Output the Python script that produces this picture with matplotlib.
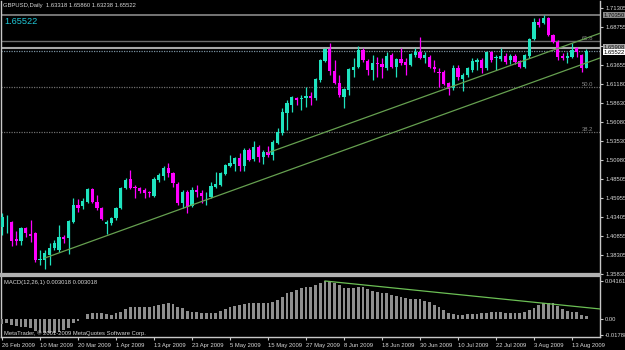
import matplotlib
matplotlib.use("Agg")
import matplotlib.pyplot as plt
import matplotlib.transforms as mtrans

# ---------------- data ----------------
opens = [1.4210, 1.4310, 1.4277, 1.4050, 1.4023, 1.4197, 1.4117, 1.4130, 1.3770, 1.3770,
         1.3836, 1.3930, 1.3903, 1.4077, 1.4063, 1.4277, 1.4503, 1.4490, 1.4543, 1.4717,
         1.4543, 1.4463, 1.4250, 1.4263, 1.4330, 1.4463, 1.4730, 1.4850, 1.4743, 1.4730,
         1.4703, 1.4677, 1.4623, 1.4837, 1.4890, 1.4997, 1.4930, 1.4783, 1.4530, 1.4677,
         1.4490, 1.4703, 1.4663, 1.4630, 1.4610, 1.4743, 1.4770, 1.4917, 1.5023, 1.5050,
         1.5130, 1.5023, 1.5237, 1.5117, 1.5277, 1.5143, 1.5210, 1.5170, 1.5330, 1.5463,
         1.5730, 1.5837, 1.5930, 1.5917, 1.5930, 1.5957, 1.5930, 1.6170, 1.6424, 1.6584,
         1.6290, 1.6130, 1.5943, 1.6037, 1.6304, 1.6344, 1.6570, 1.6424, 1.6304, 1.6397,
         1.6384, 1.6330, 1.6504, 1.6344, 1.6450, 1.6410, 1.6370, 1.6504, 1.6544, 1.6464,
         1.6477, 1.6344, 1.6277, 1.6277, 1.6130, 1.6064, 1.6330, 1.6184, 1.6237, 1.6304,
         1.6410, 1.6437, 1.6330, 1.6544, 1.6464, 1.6450, 1.6490, 1.6437, 1.6490, 1.6424,
         1.6344, 1.6490, 1.6717, 1.6944, 1.6930, 1.6997, 1.6770, 1.6677, 1.6490, 1.6464,
         1.6477, 1.6597, 1.6504, 1.63318]
highs = [1.4397, 1.4370, 1.4290, 1.4157, 1.4210, 1.4210, 1.4303, 1.4143, 1.3903, 1.3903,
         1.3996, 1.4036, 1.4237, 1.4103, 1.4303, 1.4597, 1.4583, 1.4597, 1.4730, 1.4730,
         1.4637, 1.4477, 1.4303, 1.4343, 1.4477, 1.4743, 1.4863, 1.4970, 1.4770, 1.4743,
         1.4730, 1.4690, 1.4877, 1.4930, 1.5023, 1.5063, 1.4943, 1.4810, 1.4703, 1.4703,
         1.4743, 1.4770, 1.4703, 1.4677, 1.4810, 1.4943, 1.4943, 1.5050, 1.5170, 1.5143,
         1.5197, 1.5263, 1.5263, 1.5357, 1.5303, 1.5237, 1.5290, 1.5370, 1.5530, 1.5797,
         1.5904, 1.5957, 1.5943, 1.5970, 1.6077, 1.6010, 1.6197, 1.6450, 1.6597, 1.6664,
         1.6437, 1.6237, 1.6064, 1.6330, 1.6464, 1.6624, 1.6597, 1.6450, 1.6504, 1.6477,
         1.6464, 1.6544, 1.6530, 1.6464, 1.6597, 1.6464, 1.6530, 1.6597, 1.6744, 1.6544,
         1.6504, 1.6437, 1.6330, 1.6304, 1.6144, 1.6370, 1.6370, 1.6264, 1.6344, 1.6464,
         1.6464, 1.6464, 1.6557, 1.6557, 1.6504, 1.6597, 1.6530, 1.6517, 1.6517, 1.6437,
         1.6517, 1.6730, 1.6997, 1.6997, 1.7035, 1.7010, 1.6784, 1.6704, 1.6530, 1.6544,
         1.6664, 1.6610, 1.6517, 1.65860]
lows = [1.4103, 1.4130, 1.3956, 1.3970, 1.3970, 1.4077, 1.4010, 1.3743, 1.3703, 1.3650,
        1.3703, 1.3903, 1.3876, 1.3996, 1.3850, 1.4263, 1.4410, 1.4450, 1.4530, 1.4530,
        1.4437, 1.4303, 1.4117, 1.4237, 1.4303, 1.4450, 1.4717, 1.4717, 1.4597, 1.4663,
        1.4597, 1.4610, 1.4610, 1.4810, 1.4837, 1.4877, 1.4743, 1.4503, 1.4463, 1.4397,
        1.4477, 1.4610, 1.4530, 1.4503, 1.4597, 1.4730, 1.4757, 1.4903, 1.5010, 1.4957,
        1.4957, 1.4957, 1.5090, 1.5090, 1.5077, 1.5050, 1.5143, 1.5103, 1.5317, 1.5437,
        1.5503, 1.5743, 1.5837, 1.5770, 1.5810, 1.5837, 1.5904, 1.6143, 1.6410, 1.6237,
        1.6117, 1.5943, 1.5797, 1.5970, 1.6210, 1.6330, 1.6410, 1.6237, 1.6170, 1.6210,
        1.6197, 1.6304, 1.6330, 1.6210, 1.6370, 1.6237, 1.6357, 1.6477, 1.6450, 1.6397,
        1.6330, 1.6277, 1.6077, 1.6104, 1.5970, 1.6037, 1.6170, 1.6024, 1.6210, 1.6277,
        1.6304, 1.6264, 1.6304, 1.6410, 1.6304, 1.6424, 1.6384, 1.6384, 1.6384, 1.6330,
        1.6330, 1.6464, 1.6704, 1.6877, 1.6917, 1.6757, 1.6664, 1.6437, 1.6437, 1.6397,
        1.6464, 1.6477, 1.6277, 1.63238]
closes = [1.4343, 1.4323, 1.4023, 1.4023, 1.4197, 1.4130, 1.4090, 1.3770, 1.3783, 1.3863,
          1.3930, 1.3996, 1.4077, 1.4050, 1.4290, 1.4503, 1.4463, 1.4557, 1.4717, 1.4543,
          1.4463, 1.4317, 1.4277, 1.4330, 1.4463, 1.4730, 1.4837, 1.4730, 1.4730, 1.4690,
          1.4663, 1.4663, 1.4850, 1.4903, 1.4997, 1.4930, 1.4797, 1.4530, 1.4677, 1.4477,
          1.4703, 1.4677, 1.4623, 1.4643, 1.4757, 1.4783, 1.4930, 1.5037, 1.5063, 1.5130,
          1.5023, 1.5237, 1.5103, 1.5277, 1.5143, 1.5210, 1.5170, 1.5343, 1.5477, 1.5743,
          1.5863, 1.5943, 1.5904, 1.5934, 1.5957, 1.5930, 1.6184, 1.6437, 1.6584, 1.6290,
          1.6130, 1.5970, 1.6050, 1.6317, 1.6344, 1.6570, 1.6437, 1.6304, 1.6397, 1.6384,
          1.6344, 1.6490, 1.6344, 1.6450, 1.6397, 1.6370, 1.6517, 1.6544, 1.6464, 1.6504,
          1.6344, 1.6317, 1.6264, 1.6117, 1.6050, 1.6330, 1.6210, 1.6237, 1.6330, 1.6424,
          1.6437, 1.6330, 1.6544, 1.6437, 1.6477, 1.6490, 1.6410, 1.6490, 1.6410, 1.6344,
          1.6504, 1.6717, 1.6944, 1.6904, 1.6997, 1.6770, 1.6677, 1.6477, 1.6464, 1.6490,
          1.6570, 1.6544, 1.6330, 1.65522]
macd = [-0.0055, -0.0047, -0.0066, -0.0077, -0.0084, -0.0091, -0.0102, -0.0128, -0.0150, -0.0157,
        -0.0157, -0.0150, -0.0139, -0.0120, -0.0102, -0.0047, -0.0018, -0.0004,
        0.0055, 0.0069, 0.0069, 0.0062, 0.0051, 0.0044, 0.0062, 0.0080, 0.0106, 0.0128,
        0.0135, 0.0135, 0.0135, 0.0135, 0.0142, 0.0153, 0.0164, 0.0172, 0.0164, 0.0135,
        0.0117, 0.0088, 0.0080, 0.0080, 0.0069, 0.0062, 0.0062, 0.0069, 0.0091, 0.0106,
        0.0135, 0.0146, 0.0153, 0.0161, 0.0172, 0.0172, 0.0172, 0.0172, 0.0172, 0.0183,
        0.0208, 0.0245, 0.0281, 0.0299, 0.0318, 0.0336, 0.0347, 0.0350, 0.0375,
        0.0398, 0.041618, 0.0409, 0.0398, 0.0372, 0.0343, 0.0336, 0.0336, 0.0354, 0.0354,
        0.0329, 0.0310, 0.0299, 0.0281, 0.0281, 0.0263, 0.0252, 0.0237, 0.0226, 0.0219,
        0.0215, 0.0215, 0.0201, 0.0183, 0.0153, 0.0135, 0.0099, 0.0069, 0.0051, 0.0044,
        0.0044, 0.0051, 0.0051, 0.0051, 0.0062, 0.0069, 0.0073, 0.0073, 0.0073, 0.0069,
        0.0069, 0.0069, 0.0062, 0.0073, 0.0099, 0.0117, 0.0153, 0.0172, 0.0172, 0.0172,
        0.0142, 0.0110, 0.0088, 0.0080, 0.0073, 0.0040, 0.003018]

date_labels = ["26 Feb 2009", "10 Mar 2009", "20 Mar 2009", "1 Apr 2009", "13 Apr 2009",
               "23 Apr 2009", "5 May 2009", "15 May 2009", "27 May 2009", "8 Jun 2009",
               "18 Jun 2009", "30 Jun 2009", "10 Jul 2009", "22 Jul 2009", "3 Aug 2009",
               "13 Aug 2009"]
date_bars = [0, 8, 16, 24, 32, 40, 48, 56, 64, 72, 80, 88, 96, 104, 112, 120]
price_ticks = [1.71305, 1.68755, 1.66205, 1.63655, 1.61180, 1.58630, 1.56080, 1.53530,
               1.50980, 1.48505, 1.45955, 1.43405, 1.40855, 1.38305, 1.35830]
macd_ticks = [0.041618, 0.0, -0.017888]
macd_tick_labels = ["0.041618", "0.00", "-0.017888"]

high_mark = 1.70350
level_mark = 1.65908
bid = 1.65522
fib_levels = [1.6690, 1.6081, 1.5477]
fib_names = ["61.8", "50.0", "38.2"]
lower_line_x = [9.05, 125.9]
lower_line_y = [1.3797, 1.6464]
upper_line_x = [56.0, 125.9]
upper_line_y = [1.5200, 1.6794]
macd_line_x = [68.0, 125.9]
macd_line_y = [0.041618, 0.0110]

# ---------------- styling ----------------
BULL = "#1fe3bf"
BEAR = "#ff00ff"
TXT = "#d8d8d8"
FONT = ["Liberation Sans", "DejaVu Sans"]
FS = 4.2

W, H = 625, 350
fig = plt.figure(figsize=(W / 100, H / 100), dpi=100, facecolor="black")


def ax_px(l, t, r, b):
    return fig.add_axes([l / W, 1 - b / H, (r - l) / W, (b - t) / H], facecolor="black")


ax = ax_px(1, 1, 600, 274)
axm = ax_px(1, 276, 600, 337)

xl = ((1 - 2) / 4.75, (600 - 2) / 4.75)
for a in (ax, axm):
    a.set_xlim(*xl)
    a.spines["top"].set_visible(False)
    for s in ("left", "right", "bottom"):
        a.spines[s].set_color("#c8c8c8")
        a.spines[s].set_linewidth(1.0)
ax.spines["bottom"].set_color("#b0b0b0")
ax.spines["bottom"].set_linewidth(1.6)
axm.spines["top"].set_visible(True)
axm.spines["top"].set_color("#b0b0b0")
axm.spines["top"].set_linewidth(1.6)

ax.set_ylim(1.35831, 1.72239)
axm.set_ylim(-0.01971, 0.04709)

# candles
n = len(opens)
xs = list(range(n))
for i in xs:
    o, h, l, c = opens[i], highs[i], lows[i], closes[i]
    col = BULL if c >= o else BEAR
    ax.vlines(i, l, h, color=col, linewidth=0.9, zorder=3)
    lo = min(o, c)
    ht = max(abs(c - o), 0.0011)
    ax.bar(i, ht, bottom=lo, width=0.68, color=col, linewidth=0, zorder=4)

# horizontal levels
ax.axhline(high_mark, color="#8a8a8a", linewidth=1.2, zorder=2)
ax.axhline(fib_levels[0], color="#6e6e6e", linewidth=1.0, zorder=2)
ax.axhline(level_mark, color="#a8a8a8", linewidth=1.5, zorder=2)
ax.axhline(bid, color="#7890a0", linewidth=0.9, linestyle=(0, (1, 1)), zorder=2)
ax.axhline(fib_levels[1], color="#6e6e6e", linewidth=0.9, linestyle=(0, (1, 1)), zorder=2)
ax.axhline(fib_levels[2], color="#6e6e6e", linewidth=0.9, linestyle=(0, (1, 1)), zorder=2)
for lv, nm in zip(fib_levels, fib_names):
    ax.text(124.5, lv, nm, color="#8a8a8a", fontsize=FS, family=FONT,
            ha="right", va="bottom", zorder=5)

# trend lines
ax.plot(lower_line_x, lower_line_y, color="#66a050", linewidth=0.9, zorder=5)
ax.plot(upper_line_x, upper_line_y, color="#66a050", linewidth=0.9, zorder=5)

# price axis on right
ax.yaxis.tick_right()
ax.set_yticks(price_ticks)
ax.set_yticklabels(["%.5f" % v for v in price_ticks])
ax.tick_params(axis="y", colors="#c8c8c8", labelcolor=TXT, length=2.5, width=0.8,
               pad=1.2, labelsize=FS)
for t in ax.get_yticklabels():
    t.set_family(FONT)
ax.set_xticks([])

trans = mtrans.blended_transform_factory(ax.transAxes, ax.transData)
ax.text(1.0060, high_mark, "%.5f" % high_mark, transform=trans, fontsize=FS, family=FONT,
        color="#101010", va="center", ha="left", clip_on=False, zorder=10,
        bbox=dict(facecolor="#8a8a8a", edgecolor="none", pad=0.5))
ax.text(1.0060, level_mark + 0.0012, "%.5f" % level_mark, transform=trans, fontsize=FS,
        family=FONT, color="#101010", va="center", ha="left", clip_on=False, zorder=10,
        bbox=dict(facecolor="#a8a8a8", edgecolor="none", pad=0.5))
ax.text(1.0060, bid - 0.0012, "%.5f" % bid, transform=trans, fontsize=FS, family=FONT,
        color="#000000", va="center", ha="left", clip_on=False, zorder=11,
        bbox=dict(facecolor="#ffffff", edgecolor="none", pad=0.5))

# header texts
ax.text(0.004, 0.982, "GBPUSD,Daily  %.5f %.5f %.5f %.5f" % (opens[-1], highs[-1], lows[-1], closes[-1]),
        transform=ax.transAxes, color=TXT, fontsize=FS, family=FONT, va="center", ha="left")
ax.text(0.006, 0.926, "%.5f" % closes[-1], transform=ax.transAxes, color="#20c8d8",
        fontsize=6.6, family=FONT, va="center", ha="left")

# MACD
axm.bar(xs, macd, width=0.62, color="#8e8e8e", linewidth=0, zorder=3)
axm.plot(macd_line_x, macd_line_y, color="#6cc055", linewidth=0.9, zorder=4)
axm.yaxis.tick_right()
axm.set_yticks(macd_ticks)
axm.set_yticklabels(macd_tick_labels)
axm.tick_params(axis="y", colors="#c8c8c8", labelcolor=TXT, length=2.5, width=0.8,
                pad=1.2, labelsize=FS)
for t in axm.get_yticklabels():
    t.set_family(FONT)
axm.text(0.005, 0.9, "MACD(12,26,1) %.6f %.6f" % (macd[-1], macd[-1]), transform=axm.transAxes,
         color=TXT, fontsize=FS, family=FONT, va="center", ha="left")
axm.text(0.005, 0.07, "MetaTrader, \u00a9 2001-2009 MetaQuotes Software Corp.",
         transform=axm.transAxes, color=TXT, fontsize=FS, family=FONT, va="center", ha="left")

axm.set_xticks(date_bars)
axm.set_xticklabels(date_labels)
axm.tick_params(axis="x", colors="#c8c8c8", labelcolor=TXT, length=2.5, width=0.8,
                pad=1.5, labelsize=FS)
for t in axm.get_xticklabels():
    t.set_family(FONT)
    t.set_ha("left")

fig.savefig("out.png", dpi=100, facecolor="black")
